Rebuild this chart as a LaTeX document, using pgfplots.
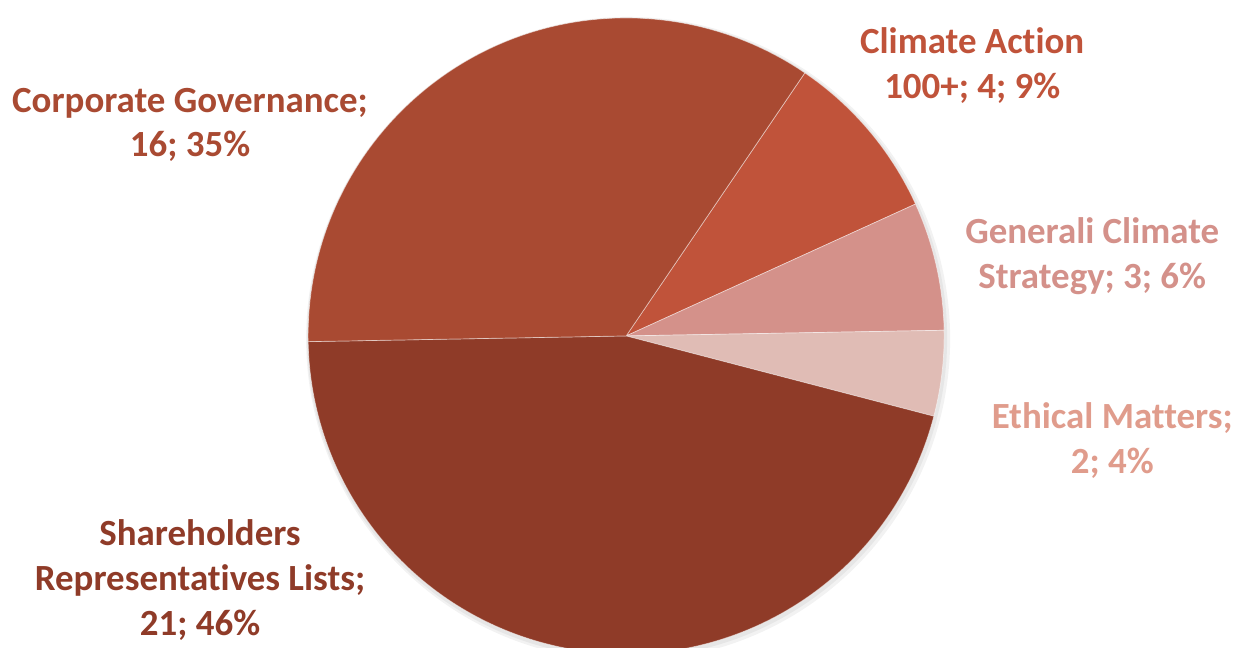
\documentclass[border=0pt]{standalone}
\usepackage{pgfplots}
\pgfplotsset{compat=1.18}
\usepackage{fontspec}
\setmainfont[Ligatures={NoCommon}]{Carlito}

\definecolor{cgov}{HTML}{A94A32}
\definecolor{clim}{HTML}{C0533A}
\definecolor{gene}{HTML}{D4918A}
\definecolor{ethi}{HTML}{E0BCB5}
\definecolor{ethitxt}{HTML}{E09C8C}
\definecolor{shar}{HTML}{8F3B28}

\begin{document}
\begin{tikzpicture}
\clip (0,0) rectangle (24.84cm,12.96cm);
\begin{axis}[
    at={(0,0)}, anchor=south west,
    x=0.02cm, y=0.02cm,
    xmin=0, xmax=1242, ymin=0, ymax=648,
    hide axis, clip=false,
]
% faint shadow
\fill[black, opacity=0.05] (axis cs:628,309) circle[radius=6.44cm];
\fill[black, opacity=0.05] (axis cs:627,310) circle[radius=6.40cm];
% slices clockwise from 55.8 deg: value / colour
\xdef\cur{55.8}
\foreach \v/\c in {4/clim,3/gene,2/ethi,21/shar,16/cgov}{
    \pgfmathsetmacro\nxt{\cur-\v/46*360}
    \edef\temp{\noexpand\fill[\c, draw=white, draw opacity=0.5, line width=0.4pt]
        (axis cs:626,312) -- ++(\cur:6.36cm)
        arc[start angle=\cur, end angle=\nxt, radius=6.36cm] -- cycle;}
    \temp
    \xdef\cur{\nxt}
}

\tikzset{lbl/.style={align=center, font=\bfseries\fontsize{21}{25.6}\selectfont}}
\node[lbl, text=cgov] at (axis cs:190,523) {Corporate Governance;\\16; 35\%};
\node[lbl, text=clim] at (axis cs:972,582) {Climate Action\\100+; 4; 9\%};
\node[lbl, text=gene] at (axis cs:1092,392) {Generali Climate\\Strategy; 3; 6\%};
\node[lbl, text=ethitxt] at (axis cs:1112,207) {Ethical Matters;\\2; 4\%};
\node[lbl, text=shar] at (axis cs:200,68) {Shareholders\\Representatives Lists;\\21; 46\%};
\end{axis}
\end{tikzpicture}
\end{document}
